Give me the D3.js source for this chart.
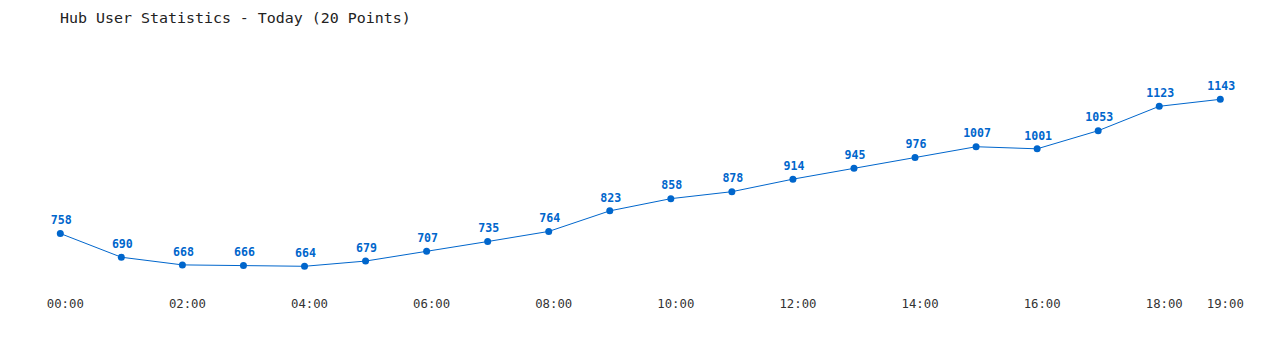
<!DOCTYPE html>
<html><head><meta charset="utf-8">
<script src="https://cdn.jsdelivr.net/npm/d3@7"></script>
<style>html,body{margin:0;padding:0;background:#fff;}svg{display:block;}</style>
</head><body>
<svg id="chart" width="1280" height="350"></svg>
<script>
const title = "Hub User Statistics - Today (20 Points)";
const hours = ["00:00","01:00","02:00","03:00","04:00","05:00","06:00","07:00","08:00","09:00","10:00","11:00","12:00","13:00","14:00","15:00","16:00","17:00","18:00","19:00"];
const users = [758,690,668,666,664,679,707,735,764,823,858,878,914,945,976,1007,1001,1053,1123,1143];
const tickLabels = ["00:00","02:00","04:00","06:00","08:00","10:00","12:00","14:00","16:00","18:00","19:00"];

const color = "#0066cc";
const svg = d3.select("#chart");
const x = d3.scalePoint().domain(hours).range([60.3, 1220.3]);
const y = d3.scaleLinear().domain([600, 1300]).range([288.6, 44.6]);

svg.append("text").attr("x", 60).attr("y", 23)
  .attr("font-family", "'DejaVu Sans Mono', monospace").attr("font-size", 14.95)
  .attr("fill", "#222").text(title);

const data = hours.map((h, i) => ({h, v: users[i]}));

svg.append("path").datum(data)
  .attr("fill", "none").attr("stroke", color).attr("stroke-width", 1)
  .attr("d", d3.line().x(d => x(d.h)).y(d => y(d.v)));

svg.selectAll("circle.pt").data(data).enter().append("circle")
  .attr("class", "pt").attr("cx", d => x(d.h)).attr("cy", d => y(d.v))
  .attr("r", 3.5).attr("fill", color);

svg.selectAll("text.val").data(data).enter().append("text")
  .attr("class", "val").attr("x", d => x(d.h) + 1).attr("y", d => y(d.v) - 9.3)
  .attr("text-anchor", "middle").attr("font-family", "'DejaVu Sans Mono', monospace")
  .attr("font-weight", "bold").attr("font-size", 11.6).attr("fill", color)
  .text(d => d.v);

const xAxis = d3.axisBottom(x).tickValues(tickLabels).tickSize(0).tickPadding(0);
const gx = svg.append("g").attr("transform", "translate(4.5,299)").call(xAxis);
gx.select(".domain").remove();
gx.selectAll("text").attr("font-family", "'DejaVu Sans Mono', monospace")
  .attr("font-size", 12.3).attr("fill", "#333").attr("dy", "0.72em");
</script>
</body></html>
